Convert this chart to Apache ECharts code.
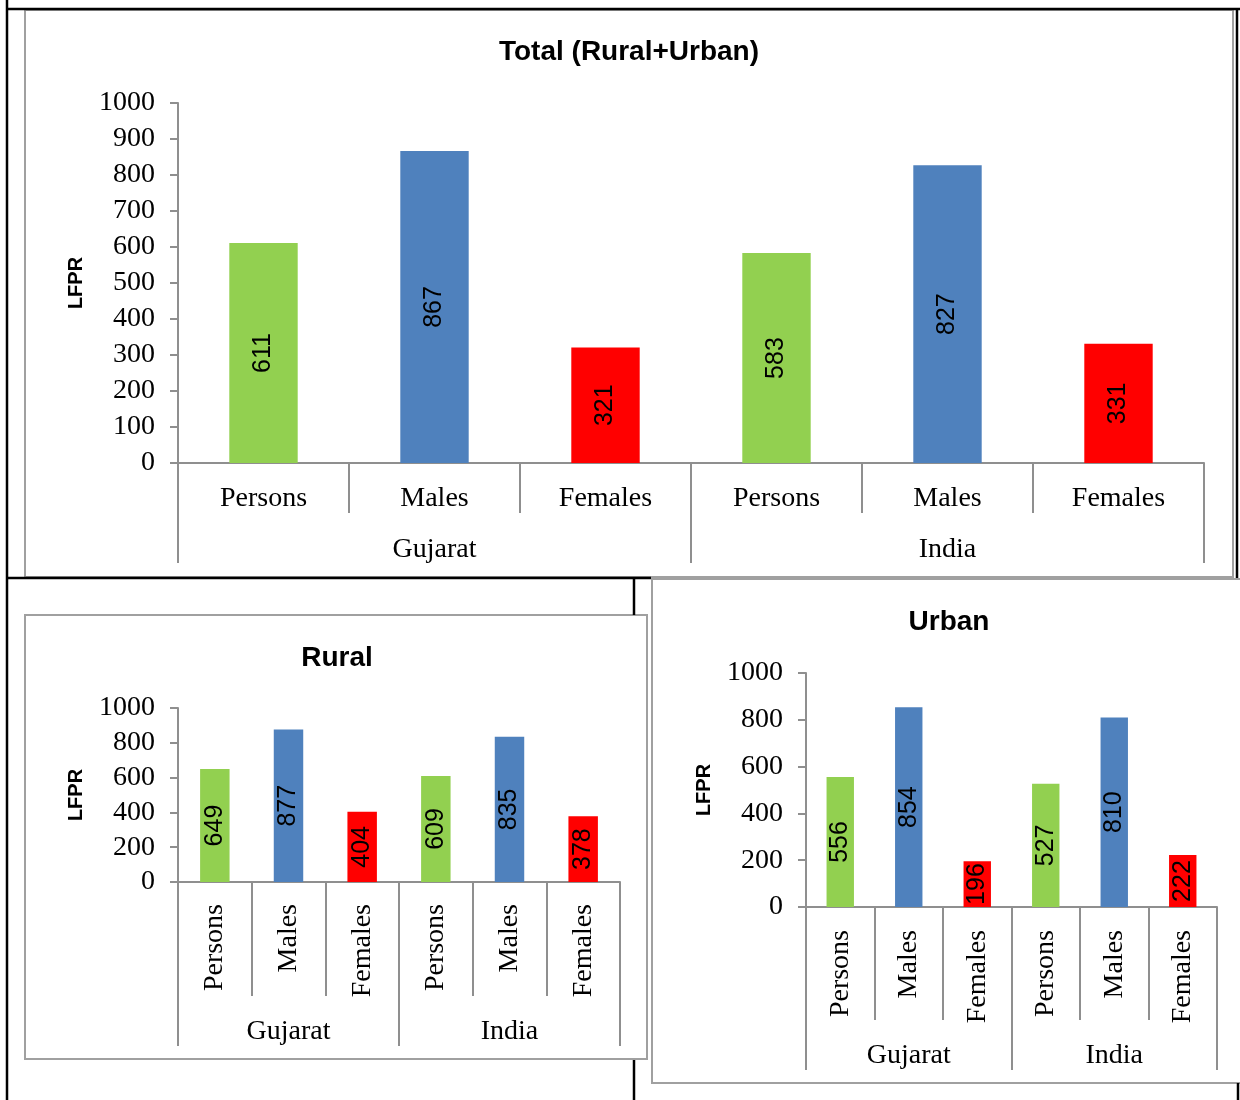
<!DOCTYPE html>
<html>
<head>
<meta charset="utf-8">
<script src="https://cdn.jsdelivr.net/npm/echarts@6/dist/echarts.min.js"></script>
<style>
html,body{margin:0;padding:0;background:#fff;}
#c{width:1240px;height:1100px;}
</style>
</head>
<body>
<div id="c"></div>
<script>
// ---- data ----
const categories = ['Persons', 'Males', 'Females', 'Persons', 'Males', 'Females'];
const groups = ['Gujarat', 'India'];
const totalValues = [611, 867, 321, 583, 827, 331];
const ruralValues = [649, 877, 404, 609, 835, 378];
const urbanValues = [556, 854, 196, 527, 810, 222];
const titles = ['Total (Rural+Urban)', 'Rural', 'Urban'];
const yName = 'LFPR';

// ---- styles ----
const palette = ['#92D050', '#4F81BD', '#FF0000'];
const axisGray = '#8f8f8f';
const serif = '"Liberation Serif", "Times New Roman", serif';
const sans = '"Liberation Sans", Arial, sans-serif';

const chart = echarts.init(document.getElementById('c'), null, {renderer: 'canvas'});

const panels = [
  {values: totalValues, grid: {left: 178, top: 103, width: 1026, height: 360}, interval: 100,
   rotate: 0, labelMargin: 22, shortTick: 50, longTick: 100, groupMargin: 73,
   title: {x: 629, y: 38}},
  {values: ruralValues, grid: {left: 178, top: 708, width: 442, height: 174}, interval: 200,
   rotate: 90, labelMargin: 22, shortTick: 114, longTick: 164, groupMargin: 136,
   title: {x: 337, y: 644}},
  {values: urbanValues, grid: {left: 806, top: 673, width: 411, height: 234}, interval: 200,
   rotate: 90, labelMargin: 23, shortTick: 113, longTick: 163, groupMargin: 135,
   title: {x: 949, y: 608}}
];

const grid = [], xAxis = [], yAxis = [], series = [], title = [];
panels.forEach((p, i) => {
  grid.push(Object.assign({containLabel: false}, p.grid));
  title.push({
    text: titles[i], left: p.title.x, top: p.title.y, textAlign: 'center', padding: 0,
    textStyle: {fontFamily: sans, fontWeight: 'bold', fontSize: 28, color: '#000'}
  });
  yAxis.push({
    type: 'value', gridIndex: i, min: 0, max: 1000, interval: p.interval,
    name: yName, nameLocation: 'middle', nameRotate: 90, nameGap: 92,
    nameTextStyle: {fontFamily: sans, fontWeight: 'bold', fontSize: 20, color: '#000'},
    axisLine: {show: true, lineStyle: {color: axisGray, width: 2}},
    axisTick: {show: true, inside: false, length: 8, lineStyle: {color: axisGray, width: 2}},
    axisLabel: {fontFamily: serif, fontSize: 28, color: '#000', margin: 23,
                formatter: (v) => String(v)},
    splitLine: {show: false}
  });
  xAxis.push({
    type: 'category', gridIndex: i, position: 'bottom', data: categories,
    axisLine: {show: true, lineStyle: {color: axisGray, width: 2}},
    axisTick: {show: true, interval: 0, length: p.shortTick, lineStyle: {color: axisGray, width: 2}},
    axisLabel: {interval: 0, rotate: p.rotate, margin: p.labelMargin, fontFamily: serif, fontSize: 28, color: '#000'}
  });
  xAxis.push({
    type: 'category', gridIndex: i, position: 'bottom', data: groups,
    axisLine: {show: false},
    axisTick: {show: true, interval: 0, length: p.longTick, lineStyle: {color: axisGray, width: 2}},
    axisLabel: {interval: 0, margin: p.groupMargin, fontFamily: serif, fontSize: 28, color: '#000'}
  });
  series.push({
    type: 'bar', xAxisIndex: i * 2, yAxisIndex: i, data: p.values, barWidth: '40%',
    itemStyle: {color: (params) => palette[params.dataIndex % 3]},
    label: {show: true, position: 'inside', rotate: 90, fontFamily: sans, fontSize: 25, color: '#000'},
    silent: true, animation: false
  });
});

const black = {stroke: '#000', lineWidth: 2.5};
const gray = {stroke: '#a0a0a0', lineWidth: 2, fill: null};
function ln(x1, y1, x2, y2, style) {
  return {type: 'line', shape: {x1, y1, x2, y2}, style: style, z: 100, silent: true};
}
function box(x, y, w, h) {
  return {type: 'rect', shape: {x, y, width: w, height: h}, style: gray, z: 90, silent: true};
}

const graphic = [
  box(25, 10, 1208, 567),
  box(25, 615, 622, 444),
  box(652, 579, 600, 504),
  ln(7, 0, 7, 1100, black),
  ln(7, 9, 1240, 9, black),
  ln(1237, 9, 1237, 578, black),
  ln(7, 578, 651, 578, black),
  ln(634, 578, 634, 615, black),
  ln(634, 1060, 634, 1100, black),
  ln(1238, 1083, 1238, 1100, black)
];

chart.setOption({
  backgroundColor: '#fff',
  animation: false,
  title, grid, xAxis, yAxis, series, graphic
});
</script>
</body>
</html>
